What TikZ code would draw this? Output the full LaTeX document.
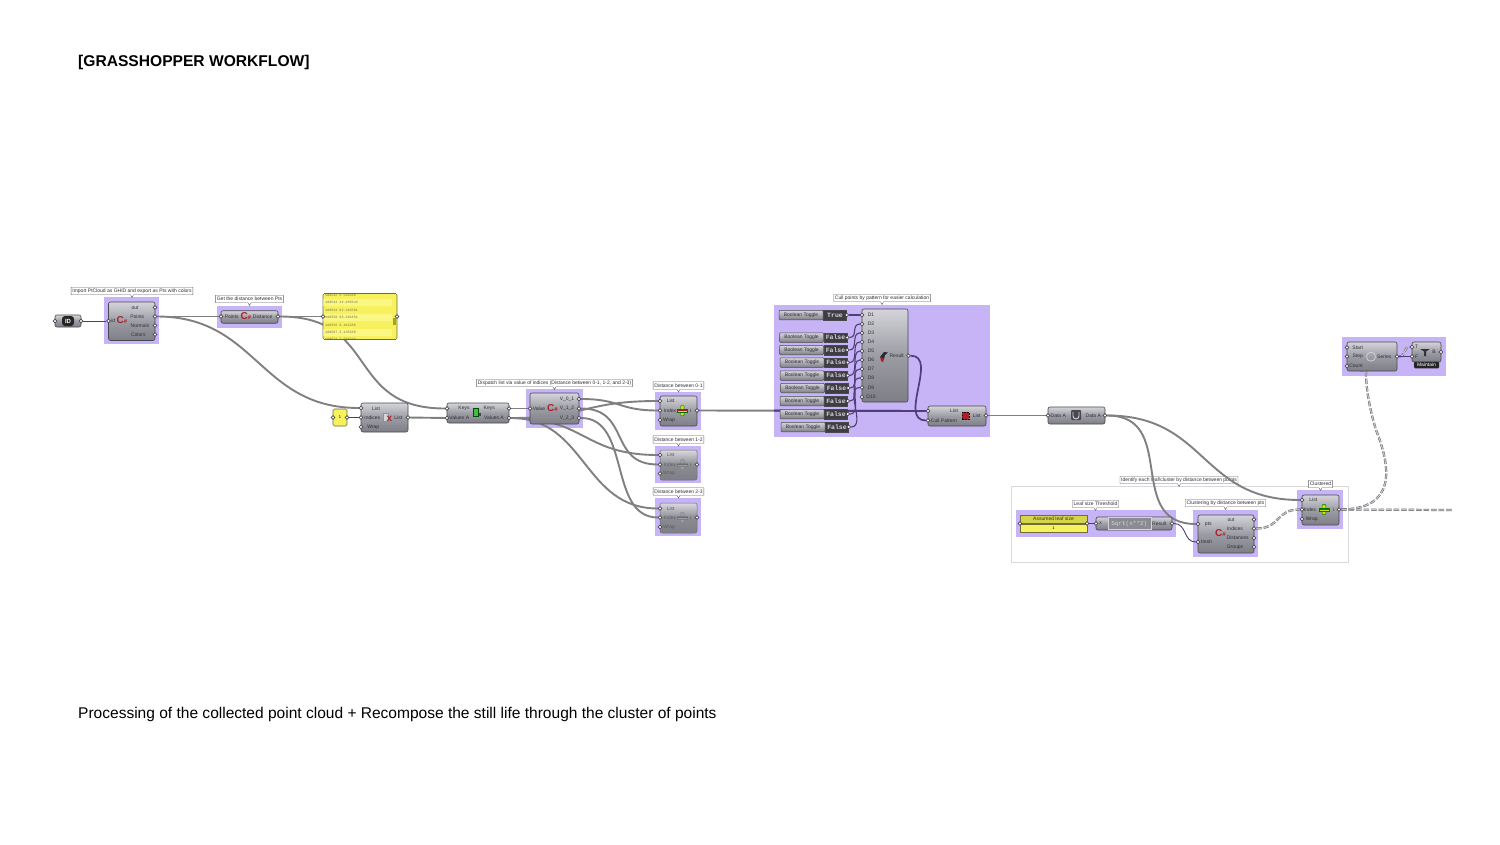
\documentclass[tikz,border=0pt]{standalone}
\usepackage{fontspec}
\setmainfont{Liberation Sans}
\newfontfamily\gmono{Liberation Mono}
\usetikzlibrary{positioning,shapes.callouts}
\pgfdeclarelayer{grouplayer}
\pgfdeclarelayer{wirelayer}
\pgfsetlayers{grouplayer,wirelayer,main}
\definecolor{gpurple}{RGB}{198,180,246}
\definecolor{gdark}{RGB}{72,72,78}
\definecolor{gtop}{RGB}{212,212,218}
\definecolor{gmid}{RGB}{156,156,164}
\definecolor{gbot}{RGB}{126,126,134}
\definecolor{gwirec}{RGB}{128,128,130}
\definecolor{gwirein}{RGB}{78,62,122}
\definecolor{gyellow}{RGB}{246,241,92}
\definecolor{gyellowl}{RGB}{250,247,132}
\definecolor{gyellowd}{RGB}{214,212,72}
\definecolor{gtext}{RGB}{48,48,54}
\definecolor{gred}{RGB}{172,32,42}
\tikzset{
  groupbox/.style={fill=gpurple, inner sep=0pt},
  compbox/.style={draw=gdark, line width=0.6pt, rounded corners=2pt, inner sep=0pt,
    top color=gtop, bottom color=gbot, middle color=gmid},
  compoff/.style={draw=gdark!80, line width=0.5pt, rounded corners=2pt, inner sep=0pt,
    top color=gtop!90, bottom color=gbot, middle color=gbot!90!white},
  gport/.style={circle, draw=gdark, fill=white, line width=0.7pt, inner sep=0pt, minimum size=3.6pt},
  gtxt/.style={font=\fontsize{5}{5}\selectfont, text=gtext, inner sep=0pt},
  gtxtoff/.style={font=\fontsize{5}{5}\selectfont, text=gtext!45!gbot, inner sep=0pt},
  gnote/.style={rectangle callout, callout relative pointer={(0pt,-2.8pt)}, callout pointer width=3pt,
    draw=gdark!85, fill=white, line width=0.4pt, font=\fontsize{5}{5}\selectfont, text=gtext,
    inner xsep=1.2pt, inner ysep=0pt, minimum height=7.5pt},
  gwire/.style={draw=gwirec, line width=1.9pt},
  gthin/.style={draw=gdark, line width=0.9pt},
  gwirepurple/.style={draw=gwirein, line width=1.1pt},
  gdash/.style={draw=gdark!85, double=gmid!60!white, double distance=1.2pt, line width=0.5pt, dash pattern=on 5.5pt off 2pt},
  tgbody/.style={draw=gdark, line width=0.5pt, rounded corners=1pt, top color=gtop, bottom color=gbot,
    inner sep=0pt, minimum width=44pt, minimum height=9.5pt, font=\fontsize{5}{5}\selectfont, text=gtext},
  tgval/.style={draw=gdark, fill=gdark!85!black, line width=0.5pt, inner sep=0pt, minimum width=23pt,
    minimum height=9.5pt, font=\gmono\bfseries\fontsize{6.5}{6.5}\selectfont, text=gtop},
  pnltxt/.style={font=\gmono\fontsize{3.4}{3.4}\selectfont, text=yellow!40!black, inner sep=0pt, anchor=west},
  csicon/.style={font=\bfseries\fontsize{10}{10}\selectfont, text=gred, inner sep=0pt},
  itemicon/.pic={
    \fill[draw=green!45!black, fill=yellow!80!green, line width=0.4pt, rounded corners=1pt]
      (-1.8,-5.2) rectangle (1.8,5.2);
    \fill[draw=green!45!black, fill=yellow!80!green, line width=0.4pt] (-5.2,-1.8) rectangle (5.2,1.8);
    \draw[gred, line width=1pt] (-5.5,0) -- (5.5,0);
  },
  itemiconoff/.pic={
    \fill[draw=gdark!70, fill=gmid, line width=0.3pt, rounded corners=1pt] (-1.8,-5.2) rectangle (1.8,5.2);
    \fill[draw=gdark!70, fill=gmid, line width=0.3pt] (-5.2,-1.8) rectangle (5.2,1.8);
    \draw[gdark!80, line width=0.7pt] (-5.5,0) -- (5.5,0);
  },
}
\begin{document}
\begin{tikzpicture}[x=1pt,y=-1pt]
  \useasboundingbox (0,0) rectangle (1500,844);
  \begin{pgfonlayer}{grouplayer}
    \fill[white] (0,0) rectangle (1500,844);
    % white group behind the clustering part
    \node[draw=gtop!90, fill=white, line width=0.6pt, minimum width=337pt, minimum height=76pt, inner sep=0pt] (grp_ident) at (1179.5,524) {};
    \node[gnote] (note_ident) at (1179,480) {Identify each leaf/cluster by distance between points};
    % purple group boxes
    \node[groupbox, minimum width=55pt, minimum height=47pt] (grp_pm) at (131.5,320.5) {};
    \node[groupbox, minimum width=65pt, minimum height=22pt] (grp_dist) at (249.5,317) {};
    \node[groupbox, minimum width=57pt, minimum height=39pt] (grp_disp) at (554.5,408.5) {};
    \node[groupbox, minimum width=46pt, minimum height=38pt] (grp_d01) at (678,411) {};
    \node[groupbox, minimum width=46pt, minimum height=37pt] (grp_d12) at (678,464.5) {};
    \node[groupbox, minimum width=46pt, minimum height=38pt] (grp_d23) at (678,517) {};
    \node[groupbox, minimum width=216pt, minimum height=132pt] (grp_cull) at (882,371) {};
    \node[groupbox, minimum width=160pt, minimum height=27pt] (grp_leaf) at (1096,523.5) {};
    \node[groupbox, minimum width=65pt, minimum height=47pt] (grp_clus) at (1225.5,533.5) {};
    \node[groupbox, minimum width=46pt, minimum height=39pt] (grp_clu) at (1320,509.5) {};
    \node[groupbox, minimum width=104pt, minimum height=39pt] (grp_ser) at (1394,356.5) {};
  \end{pgfonlayer}

  % titles
  \node[font=\bfseries\fontsize{15.6}{15.6}\selectfont, inner sep=0pt, anchor=west] (title) at (78,62) {[GRASSHOPPER WORKFLOW]};
  \node[font=\fontsize{15.53}{15.53}\selectfont, inner sep=0pt, anchor=west] (caption) at (78,714) {Processing of the collected point cloud + Recompose the still life through the cluster of points};

  % group notes
  \node[gnote] (note_pm) at (132,291) {Import PtCloud as GHID and export as Pts with colors};
  \node[gnote] (note_dist) at (249.5,299) {Get the distance between Pts};
  \node[gnote] (note_disp) at (554.5,383) {Dispatch list via value of indices (Distance between 0-1, 1-2, and 2-3)};
  \node[gnote] (note_d01) at (678.5,385.5) {Distance between 0-1};
  \node[gnote] (note_d12) at (678.5,439.5) {Distance between 1-2};
  \node[gnote] (note_d23) at (678.5,491.5) {Distance between 2-3};
  \node[gnote] (note_cull) at (882,298) {Cull points by pattern for easier calculation};
  \node[gnote] (note_leaf) at (1095.5,504) {Leaf size Threshold};
  \node[gnote] (note_clus) at (1225.5,503) {Clustering by distance between pts};
  \node[gnote] (note_clu) at (1320.5,484) {Clustered};

  % id param
  \node[compbox, minimum width=26pt, minimum height=12pt] (idp) at (68,321) {};
  \node[rounded corners=3pt, fill=black!85, minimum width=12pt, minimum height=10pt, inner sep=0pt, font=\bfseries\fontsize{6}{6}\selectfont, text=white] (idp_icon) at (68,321) {ID};
  \node[gport] (idp_in) at (55,321) {};
  \node[gport] (idp_out) at (81,321) {};

  % import component
  \node[compbox, minimum width=46.5pt, minimum height=38.5pt] (pm) at (131.75,321.25) {};
  \node[gport] (pm_id) at (108.5,321) {};
  \node[gport] (pm_out) at (155,307.5) {};
  \node[gport] (pm_points) at (155,316.5) {};
  \node[gport] (pm_normals) at (155,325.5) {};
  \node[gport] (pm_colors) at (155,334.5) {};
  \node[gtxt] (pm_t0) at (113.3,321) {id};
  \node[gtxt] (pm_t1) at (135,307.5) {out};
  \node[gtxt] (pm_t2) at (137.3,316.5) {Points};
  \node[gtxt] (pm_t3) at (140,325.5) {Normals};
  \node[gtxt] (pm_t4) at (138.3,334.5) {Colors};
  \node[csicon] (pm_icon) at (122,320.5) {C{\fontsize{6}{6}\selectfont\#}};

  % distance component
  \node[compbox, minimum width=57pt, minimum height=12.5pt] (dist) at (249.5,317) {};
  \node[gport] (dist_in) at (221,316.5) {};
  \node[gport] (dist_out) at (278,316.5) {};
  \node[gtxt] (dist_t0) at (231.7,316.5) {Points};
  \node[gtxt] (dist_t1) at (262.7,316.5) {Distance};
  \node[csicon] (dist_icon) at (246,316.5) {C{\fontsize{6}{6}\selectfont\#}};

  % yellow panel
  \node[draw=gdark!80!yellow, line width=0.6pt, rounded corners=1.5pt, fill=gyellow, minimum width=74pt, minimum height=46pt, inner sep=0pt] (pnl) at (360,316.5) {};
  \begin{scope}
    \clip[rounded corners=1.5pt] (323.3,294) rectangle (396.7,339);
    \fill[gyellowl] (323,298.5) rectangle (392,306);
    \fill[gyellowl] (323,313.7) rectangle (392,321);
    \fill[gyellowl] (323,328.5) rectangle (392,336);
    \node[pnltxt] (pnl_r0) at (325,295) {1dd542 6.510560};
    \node[pnltxt] (pnl_r1) at (325,302.5) {1dd543 14.185643};
    \node[pnltxt] (pnl_r2) at (325,310) {1dd544 62.345501};
    \node[pnltxt] (pnl_r3) at (325,317.5) {1dd550 66.181851};
    \node[pnltxt] (pnl_r4) at (325,325) {1dd556 8.462286};
    \node[pnltxt] (pnl_r5) at (325,332.3) {1dd567 3.135588};
    \node[pnltxt] (pnl_r6) at (325,339.6) {1dd571 7.540218};
    \fill[gdark!50!yellow] (393,318) rectangle (396,325);
  \end{scope}
  \node[gport] (pnl_in) at (323,316.5) {};
  \node[gport] (pnl_out) at (397,316.5) {};

  % small yellow number
  \node[draw=gdark!80!yellow, line width=0.6pt, rounded corners=1.5pt, fill=gyellow, minimum width=14pt, minimum height=17pt, inner sep=0pt, font=\fontsize{4}{4}\selectfont] (num) at (340,417.5) {1};
  \node[gport] (num_in) at (333,417.5) {};
  \node[gport] (num_out) at (347,417.5) {};

  % list item
  \node[compbox, minimum width=47pt, minimum height=29pt] (item) at (384.5,417.5) {};
  \node[gport] (item_list) at (361,408) {};
  \node[gport] (item_idx) at (361,417.5) {};
  \node[gport] (item_wrap) at (361,427) {};
  \node[gport] (item_out) at (408,417.5) {};
  \node[gtxt] (item_t0) at (376,408.5) {List};
  \node[gtxt] (item_t1) at (372.3,417.7) {Indices};
  \node[gtxt] (item_t2) at (373.3,427) {Wrap};
  \node[gtxt] (item_t3) at (398.3,417.7) {List};
  \node[draw=gdark!60, fill=gtop, line width=0.3pt, minimum width=4.5pt, minimum height=8pt, inner sep=0pt] (item_icon) at (385.5,417) {};
  \node[font=\bfseries\fontsize{10}{10}\selectfont, text=gred, inner sep=0pt] (item_x) at (389.5,418.5) {x};

  % sort
  \node[compbox, minimum width=62pt, minimum height=20pt] (sort) at (478,413) {};
  \node[gport] (sort_k) at (447,408.5) {};
  \node[gport] (sort_v) at (447,418) {};
  \node[gport] (sort_ko) at (509,408.5) {};
  \node[gport] (sort_vo) at (509,418) {};
  \node[gtxt] (sort_t0) at (464,408.5) {Keys};
  \node[gtxt] (sort_t1) at (459.3,418) {Values A};
  \node[gtxt] (sort_t2) at (489.3,408.5) {Keys};
  \node[gtxt] (sort_t3) at (494,418) {Values A};
  \node[fill=green!60!black!70!white, draw=green!30!black, line width=0.3pt, minimum width=5pt, minimum height=8pt, inner sep=0pt] (sort_icon) at (475.5,412) {};
  \node[fill=gdark, minimum width=2.5pt, minimum height=2.5pt, inner sep=0pt] (sort_icon2) at (480,414.5) {};

  % dispatch by value
  \node[compbox, minimum width=49pt, minimum height=31pt] (disp) at (554.5,408.5) {};
  \node[gport] (disp_in) at (530,408.5) {};
  \node[gport] (disp_v01) at (579,399) {};
  \node[gport] (disp_v12) at (579,408.5) {};
  \node[gport] (disp_v23) at (579,418) {};
  \node[gtxt] (disp_t0) at (539,408.5) {Value};
  \node[gtxt] (disp_t1) at (567,399) {V\_0\_1};
  \node[gtxt] (disp_t2) at (567,408.5) {V\_1\_2};
  \node[gtxt] (disp_t3) at (567,418) {V\_2\_3};
  \node[csicon] (disp_icon) at (552.5,408) {C{\fontsize{6}{6}\selectfont\#}};

  % distance items
  \node[compbox, minimum width=37pt, minimum height=30pt] (d01) at (678.5,411) {};
  \node[gport] (d01_list) at (660,401) {};
  \node[gport] (d01_idx) at (660,410.5) {};
  \node[gport] (d01_wrap) at (660,420) {};
  \node[gport] (d01_out) at (697,410.5) {};
  \node[gtxt] (d01_t0) at (670.7,401) {List};
  \node[gtxt] (d01_t1) at (670,410.5) {Index};
  \node[gtxt] (d01_t2) at (669,420) {Wrap};
  \node[gtxt] (d01_t3) at (690.7,410.5) {i};
  \pic at (682.3,410.7) {itemicon};

  \node[compoff, minimum width=37pt, minimum height=30pt] (d12) at (678.5,465) {};
  \node[gport] (d12_list) at (660,455) {};
  \node[gport] (d12_idx) at (660,464.5) {};
  \node[gport] (d12_wrap) at (660,473.5) {};
  \node[gport] (d12_out) at (697,464.5) {};
  \node[gtxtoff] (d12_t0) at (670.7,455) {List};
  \node[gtxtoff] (d12_t1) at (670,464.5) {Index};
  \node[gtxtoff] (d12_t2) at (669,473.5) {Wrap};
  \node[gtxtoff] (d12_t3) at (690.7,464.5) {i};
  \pic at (682.3,464.5) {itemiconoff};

  \node[compoff, minimum width=37pt, minimum height=30pt] (d23) at (678.5,518) {};
  \node[gport] (d23_list) at (660,508.5) {};
  \node[gport] (d23_idx) at (660,517.5) {};
  \node[gport] (d23_wrap) at (660,527) {};
  \node[gport] (d23_out) at (697,517.5) {};
  \node[gtxtoff] (d23_t0) at (670.7,508.5) {List};
  \node[gtxtoff] (d23_t1) at (670,517.5) {Index};
  \node[gtxtoff] (d23_t2) at (669,527) {Wrap};
  \node[gtxtoff] (d23_t3) at (690.7,517.5) {i};
  \pic at (682.3,517.5) {itemiconoff};

  % boolean toggles
  \node[tgbody] (tg1) at (801,315) {Boolean Toggle};
  \node[tgval, right=0pt of tg1] (tg1_val) {True};
  \node[gport] (tg1_out) at (tg1_val.east) {};
  \node[tgbody] (tg2) at (801.5,337.5) {Boolean Toggle};
  \node[tgval, right=0pt of tg2] (tg2_val) {False};
  \node[gport] (tg2_out) at (tg2_val.east) {};
  \node[tgbody] (tg3) at (801.5,350) {Boolean Toggle};
  \node[tgval, right=0pt of tg3] (tg3_val) {False};
  \node[gport] (tg3_out) at (tg3_val.east) {};
  \node[tgbody] (tg4) at (802,362.5) {Boolean Toggle};
  \node[tgval, right=0pt of tg4] (tg4_val) {False};
  \node[gport] (tg4_out) at (tg4_val.east) {};
  \node[tgbody] (tg5) at (802,375.5) {Boolean Toggle};
  \node[tgval, right=0pt of tg5] (tg5_val) {False};
  \node[gport] (tg5_out) at (tg5_val.east) {};
  \node[tgbody] (tg6) at (802.5,388) {Boolean Toggle};
  \node[tgval, right=0pt of tg6] (tg6_val) {False};
  \node[gport] (tg6_out) at (tg6_val.east) {};
  \node[tgbody] (tg7) at (802,401) {Boolean Toggle};
  \node[tgval, right=0pt of tg7] (tg7_val) {False};
  \node[gport] (tg7_out) at (tg7_val.east) {};
  \node[tgbody] (tg8) at (802,414) {Boolean Toggle};
  \node[tgval, right=0pt of tg8] (tg8_val) {False};
  \node[gport] (tg8_out) at (tg8_val.east) {};
  \node[tgbody] (tg9) at (803,427) {Boolean Toggle};
  \node[tgval, right=0pt of tg9] (tg9_val) {False};
  \node[gport] (tg9_out) at (tg9_val.east) {};

  % merge
  \node[compbox, minimum width=46pt, minimum height=93pt] (merge) at (885,355.5) {};
  \node[gport] (merge_d1) at (862,315) {};
  \node[gport] (merge_d2) at (862,324) {};
  \node[gport] (merge_d3) at (862,333) {};
  \node[gport] (merge_d4) at (862,342) {};
  \node[gport] (merge_d5) at (862,351) {};
  \node[gport] (merge_d6) at (862,360) {};
  \node[gport] (merge_d7) at (862,369) {};
  \node[gport] (merge_d8) at (862,378) {};
  \node[gport] (merge_d9) at (862,387.5) {};
  \node[gport] (merge_d10) at (862,397) {};
  \node[gport] (merge_out) at (908.5,355.7) {};
  \node[gtxt] (merge_t1) at (871,315) {D1};
  \node[gtxt] (merge_t2) at (871,324) {D2};
  \node[gtxt] (merge_t3) at (871,333) {D3};
  \node[gtxt] (merge_t4) at (871,342) {D4};
  \node[gtxt] (merge_t5) at (871,351) {D5};
  \node[gtxt] (merge_t6) at (871,360) {D6};
  \node[gtxt] (merge_t7) at (871,369) {D7};
  \node[gtxt] (merge_t8) at (871,378) {D8};
  \node[gtxt] (merge_t9) at (871,387.5) {D9};
  \node[gtxt] (merge_t10) at (871,397) {D10};
  \node[gtxt] (merge_t11) at (896.7,355.7) {Result};
  \fill[gdark!60!black] (880,357) -- (884,352) -- (888,352.5) -- (885,355) -- (884,359) -- cycle;
  \fill[gred] (880,357) -- (884,359) -- (883,362) -- (881,361) -- cycle;

  % cull pattern
  \node[compbox, minimum width=58pt, minimum height=20pt] (cull) at (957,416) {};
  \node[gport] (cull_list) at (928,411) {};
  \node[gport] (cull_pat) at (928,420.5) {};
  \node[gport] (cull_out) at (986,415.5) {};
  \node[gtxt] (cull_t0) at (954,411) {List};
  \node[gtxt] (cull_t1) at (944,420.5) {Cull Pattern};
  \node[gtxt] (cull_t2) at (976.7,415.5) {List};
  \node[fill=gred, draw=black, line width=0.7pt, dash pattern=on 1.5pt off 1.5pt, minimum width=7pt, minimum height=7.5pt, inner sep=0pt] (cull_icon) at (965.5,416) {};

  % data
  \node[compbox, minimum width=57pt, minimum height=17pt] (data) at (1076.5,415.5) {};
  \node[gport] (data_in) at (1048,415.5) {};
  \node[gport] (data_out) at (1105,415.5) {};
  \node[gtxt] (data_t0) at (1058.3,415.5) {Data A};
  \node[gtxt] (data_t1) at (1093.3,415.5) {Data A};
  \node[fill=gdark, rounded corners=1pt, minimum width=10pt, minimum height=10pt, inner sep=0pt] (data_icon) at (1076,415) {};
  \draw[gtop, line width=0.9pt] (1073,412) -- (1073,416) arc[start angle=180, end angle=360, radius=3pt] -- (1079,412);

  % leaf size slider
  \node[draw=gdark!80!yellow, line width=0.5pt, fill=gyellowd, minimum width=67pt, minimum height=8.5pt, inner sep=0pt, font=\fontsize{5}{5}\selectfont, text=gtext] (leaf) at (1053.5,519) {Assumed leaf size};
  \node[draw=gdark!80!yellow, line width=0.5pt, fill=gyellow, minimum width=67pt, minimum height=8.5pt, inner sep=0pt, font=\fontsize{4}{4}\selectfont, below=0pt of leaf] (leaf_val) {1};
  \node[gport] (leaf_in) at (1020,523.5) {};
  \node[gport] (leaf_out) at (1087,523.5) {};

  % expression
  \node[compbox, minimum width=76pt, minimum height=13pt] (expr) at (1134,523.5) {};
  \node[draw=gtop, fill=gbot!90!white, line width=0.4pt, minimum width=43pt, minimum height=12pt, inner sep=0pt, font=\gmono\fontsize{6}{6}\selectfont, text=gtop] (expr_body) at (1129.3,523.5) {Sqrt(x**2)};
  \node[gport] (expr_x) at (1096,523.5) {};
  \node[gport] (expr_out) at (1172,523.5) {};
  \node[gtxt] (expr_t0) at (1100.7,523.5) {x};
  \node[gtxt] (expr_t1) at (1159.3,523.5) {Result};

  % clustering
  \node[compbox, minimum width=56pt, minimum height=38pt] (clus) at (1226,534) {};
  \node[gport] (clus_pts) at (1198,524) {};
  \node[gport] (clus_tr) at (1198,542) {};
  \node[gport] (clus_out) at (1254,519.5) {};
  \node[gport] (clus_ind) at (1254,528.5) {};
  \node[gport] (clus_dis) at (1254,538) {};
  \node[gport] (clus_gr) at (1254,547) {};
  \node[gtxt] (clus_t0) at (1208.3,524) {pts};
  \node[gtxt] (clus_t1) at (1206.7,542) {tresh};
  \node[gtxt] (clus_t2) at (1231,519.5) {out};
  \node[gtxt] (clus_t3) at (1235,528.5) {Indices};
  \node[gtxt] (clus_t4) at (1237.7,538) {Distances};
  \node[gtxt] (clus_t5) at (1235,547) {Groups};
  \node[csicon] (clus_icon) at (1220.5,533) {C{\fontsize{6}{6}\selectfont\#}};

  % clustered item
  \node[compbox, minimum width=37pt, minimum height=30pt] (clu) at (1320.5,510) {};
  \node[gport] (clu_list) at (1302,500) {};
  \node[gport] (clu_idx) at (1302,509.5) {};
  \node[gport] (clu_wrap) at (1302,519) {};
  \node[gport] (clu_out) at (1339,509.5) {};
  \node[gtxt] (clu_t0) at (1313.3,500) {List};
  \node[gtxt] (clu_t1) at (1310,509.5) {Index};
  \node[gtxt] (clu_t2) at (1311.7,519) {Wrap};
  \node[gtxt] (clu_t3) at (1333.3,509.5) {i};
  \pic at (1324,509.5) {itemicon};

  % series
  \node[compbox, minimum width=50pt, minimum height=29pt] (ser) at (1372,356.5) {};
  \node[gport] (ser_start) at (1347,347.5) {};
  \node[gport] (ser_step) at (1347,356.5) {};
  \node[gport] (ser_count) at (1347,366) {};
  \node[gport] (ser_out) at (1397,356.5) {};
  \node[gtxt] (ser_t0) at (1357.7,347.5) {Start};
  \node[gtxt] (ser_t1) at (1357.7,356.5) {Step};
  \node[gtxt] (ser_t2) at (1356,366) {Count};
  \node[gtxt] (ser_t3) at (1384.3,356.5) {Series};
  \node[circle, draw=gtop, line width=0.7pt, minimum size=9pt, inner sep=0pt] (ser_icon) at (1371,356.7) {};

  % maintain
  \node[compbox, minimum width=29pt, minimum height=20pt] (mnt) at (1426.5,352) {};
  \node[fill=black!85, rounded corners=1pt, minimum width=25pt, minimum height=6.5pt, inner sep=0pt, font=\fontsize{5}{5}\selectfont, text=white] (mnt_tag) at (1426.5,365) {Maintain};
  \node[gport] (mnt_t) at (1412,347) {};
  \node[gport] (mnt_f) at (1412,356.5) {};
  \node[gport] (mnt_out) at (1441,352) {};
  \node[gtxt] (mnt_t0) at (1416.7,347) {T};
  \node[gtxt] (mnt_t1) at (1416.7,356.5) {F};
  \node[gtxt] (mnt_t2) at (1434,352) {B};
  \fill[gdark!70!black] (1420,349) -- (1430,349) -- (1426,351.5) -- (1426,356) -- (1428,356) -- (1422,356) -- (1424,356) -- (1424,351.5) -- cycle;

  \coordinate (free_end) at (1453,510);

  \begin{pgfonlayer}{wirelayer}
    % wires on the left
    \draw[gthin] (idp_out) -- (pm_id);
    \draw[gwire] (pm_points) -- (dist_in);
    \draw[gwire] (pm_points) to[out=0,in=180,distance=100pt] (item_list);
    \draw[gwire] (dist_out) -- (pnl_in);
    \draw[gwire] (dist_out) to[out=0,in=180,distance=100pt] (sort_k);
    \draw[gthin] (num_out) -- (item_idx);
    \draw[gwire] (item_out) -- (sort_v);
    \draw[gwire] (sort_ko) -- (disp_in);
    % dispatch to items
    \draw[gwire] (sort_vo) to[out=0,in=180,distance=75pt] (d01_list);
    \draw[gwire] (sort_vo) to[out=0,in=180,distance=75pt] (d12_list);
    \draw[gwire] (sort_vo) to[out=0,in=180,distance=75pt] (d23_list);
    \draw[gwire] (disp_v01) to[out=0,in=180,distance=40pt] (d01_idx);
    \draw[gwire] (disp_v12) to[out=0,in=180,distance=50pt] (d12_idx);
    \draw[gwire] (disp_v23) to[out=0,in=180,distance=50pt] (d23_idx);
    % main wire, darker where it runs over the purple
    \draw[gwire] (d01_out) -- (cull_list);
    \begin{scope}
      \clip (774,305) rectangle (990,437);
      \draw[gwirepurple, line width=1.9pt] (d01_out) -- (cull_list);
    \end{scope}
    % toggles to merge
    \draw[gwirepurple] (tg1_out) -- (merge_d1);
    \draw[gwirepurple] (tg2_out) to[out=0,in=180,distance=9pt] (merge_d2);
    \draw[gwirepurple] (tg3_out) to[out=0,in=180,distance=9pt] (merge_d3);
    \draw[gwirepurple] (tg4_out) to[out=0,in=180,distance=9pt] (merge_d4);
    \draw[gwirepurple] (tg5_out) to[out=0,in=180,distance=9pt] (merge_d5);
    \draw[gwirepurple] (tg6_out) to[out=0,in=180,distance=10pt] (merge_d6);
    \draw[gwirepurple] (tg7_out) to[out=0,in=180,distance=12pt] (merge_d7);
    \draw[gwirepurple] (tg8_out) to[out=0,in=180,distance=14pt] (merge_d8);
    \draw[gwirepurple] (tg9_out) to[out=0,in=180,distance=16pt] (merge_d9);
    \draw[gwirepurple, line width=1.7pt] (merge_out) to[out=0,in=180,distance=28pt] (cull_pat);
    % wires on the right
    \draw[gwire] (cull_out) -- (data_in);
    \draw[gwire] (data_out) to[out=0,in=180,distance=72pt] (clus_pts);
    \draw[gwire] (data_out) to[out=0,in=180,distance=100pt] (clu_list);
    \draw[gthin, gwirein] (leaf_out) -- (expr_x);
    \draw[gthin, gwirein] (expr_out) to[out=0,in=180,distance=13pt] (clus_tr);
    \draw[gdash] (clus_ind) to[out=0,in=180,distance=25pt] (clu_idx);
    \draw[gdash] (clu_out) -- (free_end);
    \draw[gdash] (clu_out) .. controls (1395,509) and (1392,470) .. (1376,430) .. controls (1370,410) and (1366,390) .. (1366,372) -- (ser_count);
    \draw[gdash] (ser_out) to[out=0,in=180,distance=7pt] (mnt_t);
    \draw[gwirepurple, line width=1.9pt] (ser_out) -- (mnt_f);
  \end{pgfonlayer}
\end{tikzpicture}
\end{document}
